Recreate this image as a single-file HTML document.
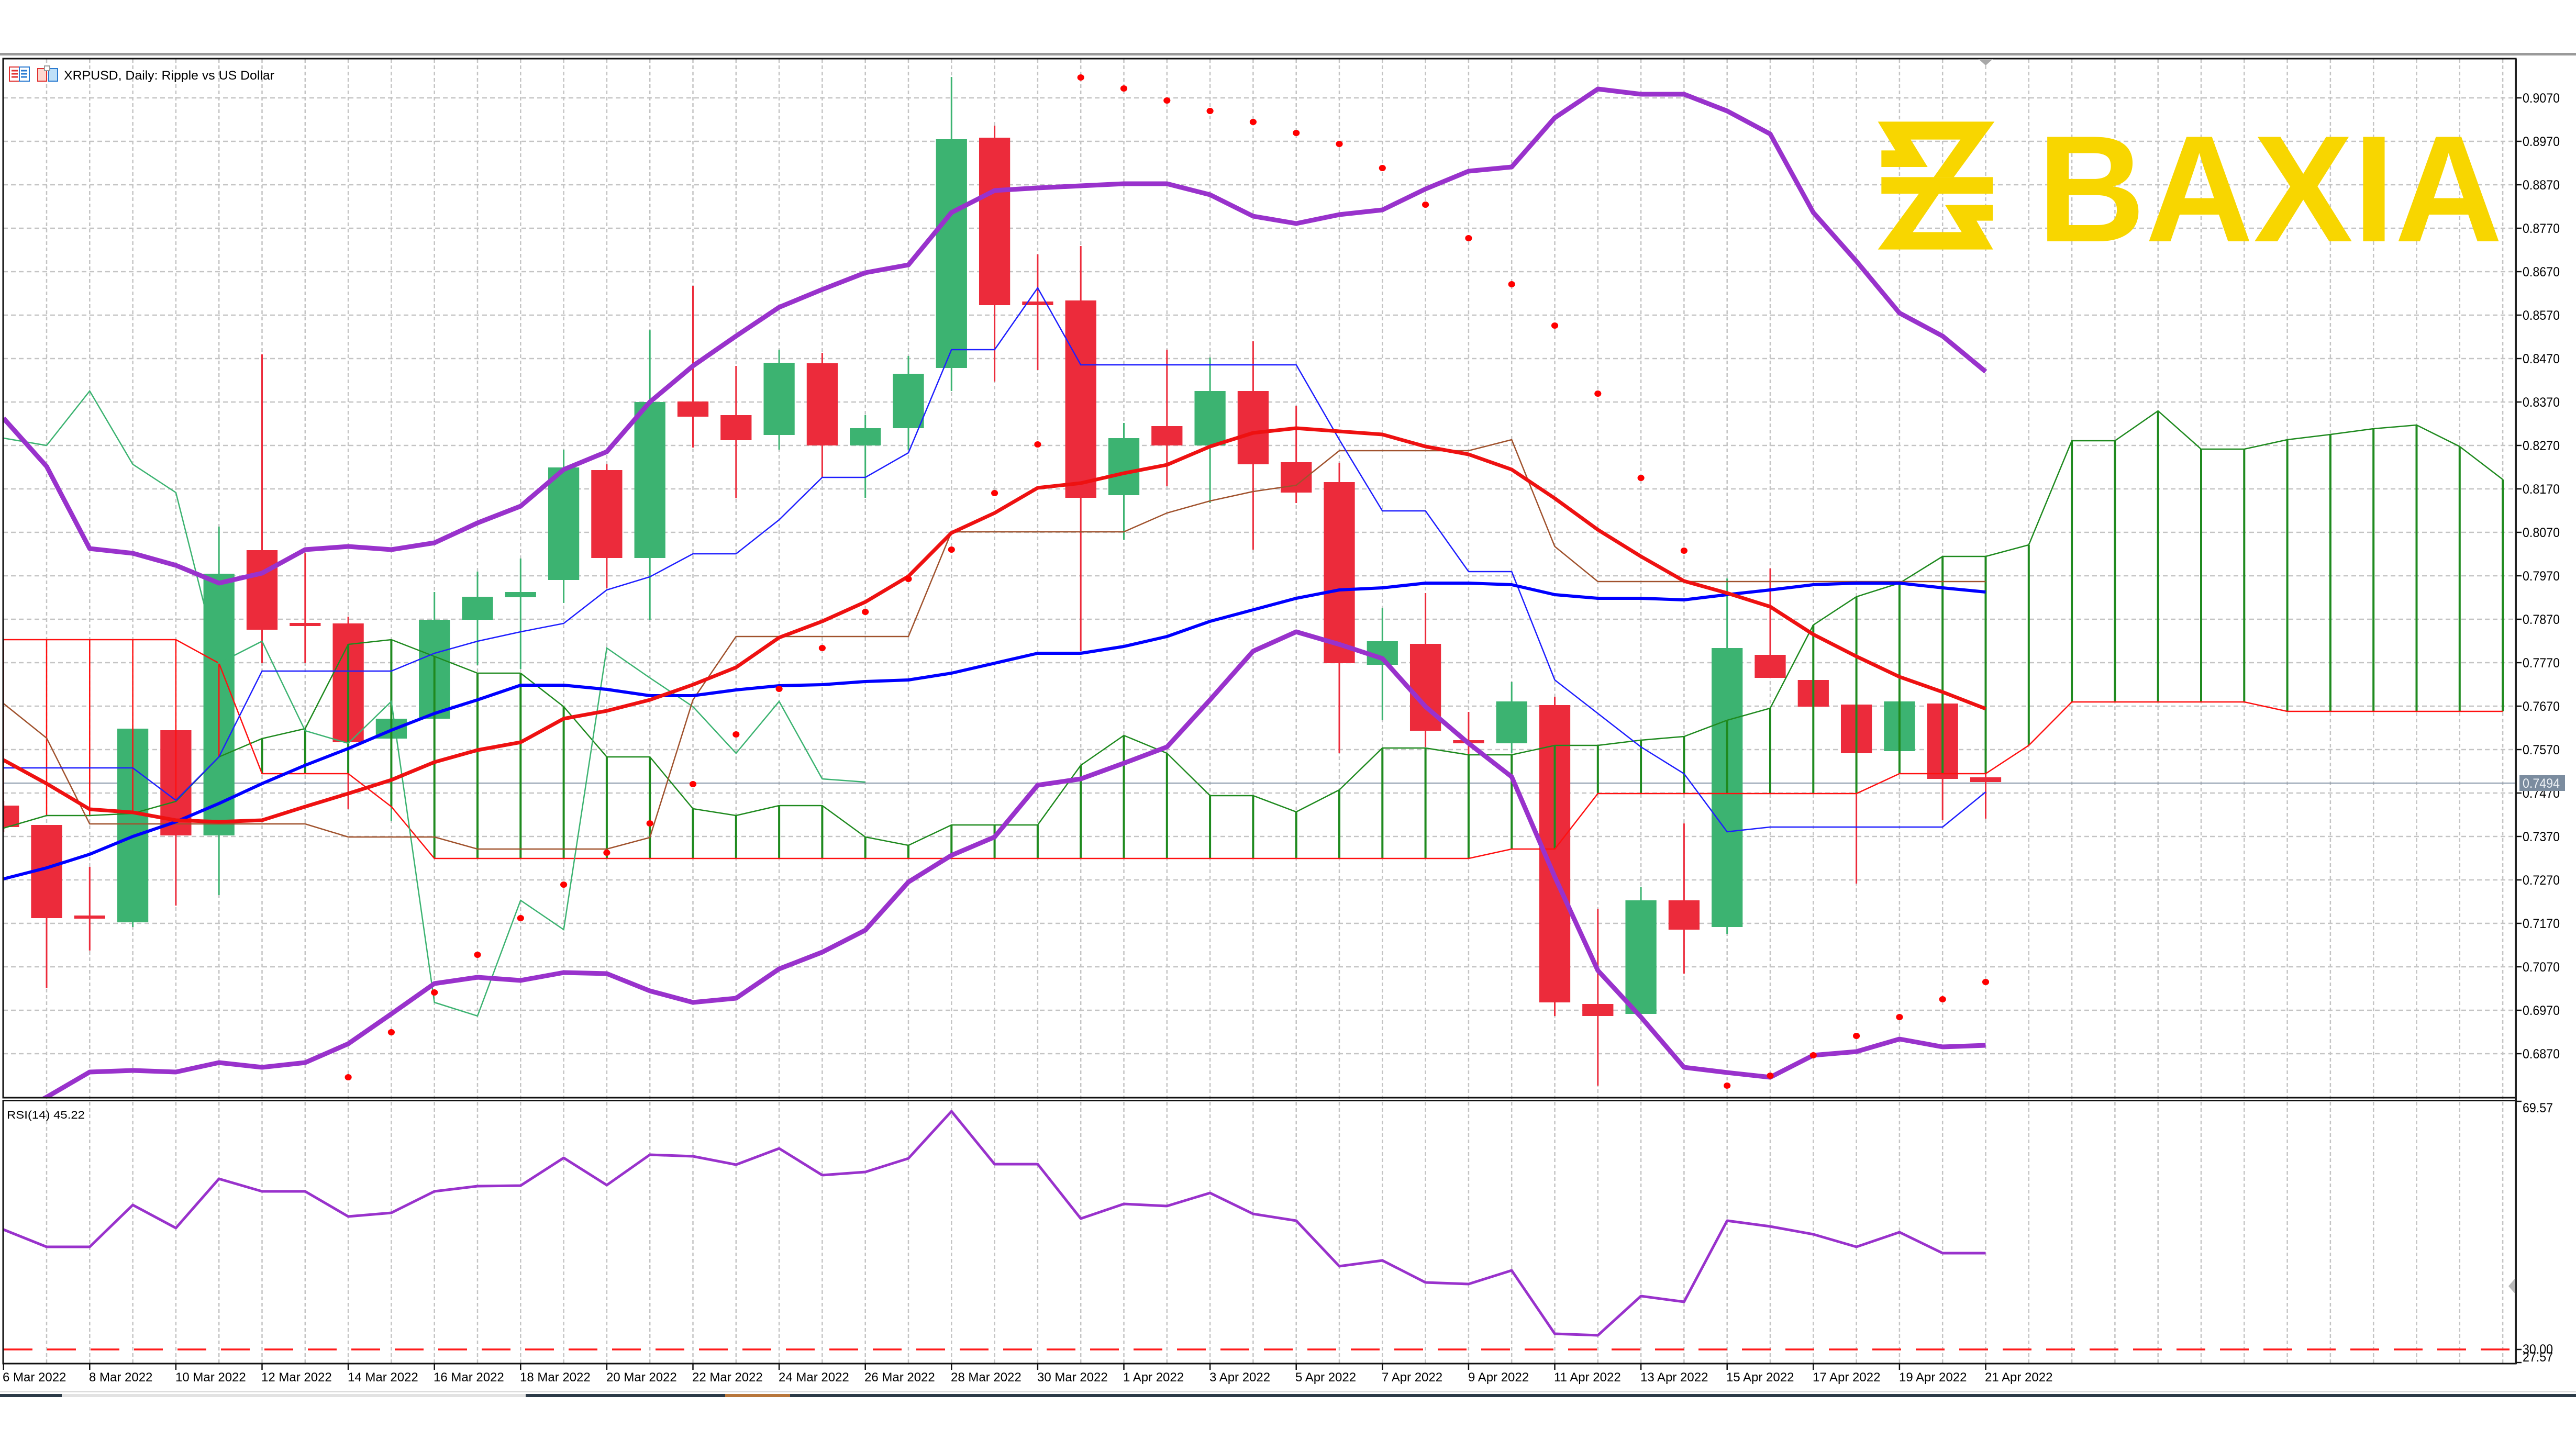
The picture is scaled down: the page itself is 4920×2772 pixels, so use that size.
<!DOCTYPE html>
<html>
<head>
<meta charset="utf-8">
<style>
html,body{margin:0;padding:0;background:#fff;}
body{width:4920px;height:2772px;overflow:hidden;}
svg{display:block;}
text{font-family:"Liberation Sans",sans-serif;}
</style>
</head>
<body>
<svg width="4920" height="2772" viewBox="0 0 4920 2772" xmlns="http://www.w3.org/2000/svg">
<defs>
<clipPath id="pc"><rect x="7" y="113" width="4797" height="1983"/></clipPath>
<clipPath id="rc"><rect x="7" y="2104" width="4797" height="500"/></clipPath>
</defs>
<rect x="0" y="0" width="4920" height="2772" fill="#fff"/>
<!-- top separator -->
<rect x="0" y="101" width="4920" height="5" fill="#9a9a9a"/>

<!-- horizontal grid -->
<path d="M6 187H4805M6 270H4805M6 353H4805M6 436H4805M6 519H4805M6 602H4805M6 685H4805M6 768H4805M6 851H4805M6 934H4805M6 1017H4805M6 1100H4805M6 1183H4805M6 1266H4805M6 1349H4805M6 1432H4805M6 1515H4805M6 1598H4805M6 1681H4805M6 1764H4805M6 1847H4805M6 1930H4805M6 2013H4805" stroke="#c4c4c4" stroke-width="2.5" stroke-dasharray="9 6" fill="none"/>

<!-- vertical grid -->
<g transform="translate(89,0) scale(82.3,1)">
<path d="M0 113V2604M1 113V2604M2 113V2604M3 113V2604M4 113V2604M5 113V2604M6 113V2604M7 113V2604M8 113V2604M9 113V2604M10 113V2604M11 113V2604M12 113V2604M13 113V2604M14 113V2604M15 113V2604M16 113V2604M17 113V2604M18 113V2604M19 113V2604M20 113V2604M21 113V2604M22 113V2604M23 113V2604M24 113V2604M25 113V2604M26 113V2604M27 113V2604M28 113V2604M29 113V2604M30 113V2604M31 113V2604M32 113V2604M33 113V2604M34 113V2604M35 113V2604M36 113V2604M37 113V2604M38 113V2604M39 113V2604M40 113V2604M41 113V2604M42 113V2604M43 113V2604M44 113V2604M45 113V2604M46 113V2604M47 113V2604M48 113V2604M49 113V2604M50 113V2604M51 113V2604M52 113V2604M53 113V2604M54 113V2604M55 113V2604M56 113V2604M57 113V2604" stroke="#c4c4c4" stroke-width="2.5" stroke-dasharray="7 5" fill="none" vector-effect="non-scaling-stroke"/>
</g>

<!-- current price line -->
<line x1="6" y1="1496" x2="4805" y2="1496" stroke="#8a99aa" stroke-width="2"/>

<!-- PRICE PANE CONTENT -->
<g clip-path="url(#pc)">
<g transform="translate(89,0) scale(82.3,1)">
<!-- candles green -->
<g fill="#3cb371">
<path d="M2 1392V1771M4 1006V1710M8 1344V1568M9 1131V1440M10 1092V1270M11 1067V1278M12 859V1152M14 631V1184M17 668V859M19 793V951M20 680V859M21 147V747M25 808V1031M27 683V961M31 1162V1376M34 1303V1439M37 1694V1937M39 1105V1784M43 1340V1435" stroke="#3cb371" stroke-width="3" vector-effect="non-scaling-stroke"/>
<rect x="1.64" y="1392" width="0.72" height="370"/>
<rect x="3.64" y="1096" width="0.72" height="500"/>
<rect x="7.64" y="1373" width="0.72" height="38"/>
<rect x="8.64" y="1184" width="0.72" height="189"/>
<rect x="9.64" y="1140" width="0.72" height="44"/>
<rect x="10.64" y="1131" width="0.72" height="10"/>
<rect x="11.64" y="893" width="0.72" height="215"/>
<rect x="13.64" y="768" width="0.72" height="298"/>
<rect x="16.64" y="693" width="0.72" height="138"/>
<rect x="18.64" y="818" width="0.72" height="33"/>
<rect x="19.64" y="714" width="0.72" height="104"/>
<rect x="20.64" y="266" width="0.72" height="437"/>
<rect x="24.64" y="837" width="0.72" height="109"/>
<rect x="26.64" y="747" width="0.72" height="104"/>
<rect x="30.64" y="1225" width="0.72" height="45"/>
<rect x="33.64" y="1340" width="0.72" height="80"/>
<rect x="36.64" y="1720" width="0.72" height="217"/>
<rect x="38.64" y="1238" width="0.72" height="533"/>
<rect x="42.64" y="1340" width="0.72" height="95"/>
</g>
<!-- candles red -->
<g fill="#ec2b3b">
<path d="M-1 1530V1590M0 1576V1888M1 1656V1816M3 1395V1730M5 677V1267M6 1057V1267M7 1178V1545M13 887V1124M15 546V855M16 699V952M18 674V912M22 240V729M23 486V707M24 470V1244M26 668V929M28 652V1050M29 776V961M30 884V1439M32 1133V1427M33 1360V1452M35 1331V1941M36 1736V2074M38 1573V1860M40 1086V1295M41 1299V1350M42 1346V1688M44 1344V1567M45 1475V1564" stroke="#ec2b3b" stroke-width="3" vector-effect="non-scaling-stroke"/>
<rect x="-1.36" y="1539" width="0.72" height="41"/>
<rect x="-0.36" y="1576" width="0.72" height="178"/>
<rect x="0.64" y="1749" width="0.72" height="6"/>
<rect x="2.64" y="1395" width="0.72" height="201"/>
<rect x="4.64" y="1051" width="0.72" height="152"/>
<rect x="5.64" y="1190" width="0.72" height="6"/>
<rect x="6.64" y="1191" width="0.72" height="227"/>
<rect x="12.64" y="898" width="0.72" height="168"/>
<rect x="14.64" y="767" width="0.72" height="29"/>
<rect x="15.64" y="793" width="0.72" height="48"/>
<rect x="17.64" y="694" width="0.72" height="157"/>
<rect x="21.64" y="263" width="0.72" height="320"/>
<rect x="22.64" y="576" width="0.72" height="7"/>
<rect x="23.64" y="574" width="0.72" height="377"/>
<rect x="25.64" y="814" width="0.72" height="37"/>
<rect x="27.64" y="747" width="0.72" height="140"/>
<rect x="28.64" y="883" width="0.72" height="58"/>
<rect x="29.64" y="921" width="0.72" height="346"/>
<rect x="31.64" y="1230" width="0.72" height="166"/>
<rect x="32.64" y="1414" width="0.72" height="6"/>
<rect x="34.64" y="1347" width="0.72" height="568"/>
<rect x="35.64" y="1918" width="0.72" height="23"/>
<rect x="37.64" y="1720" width="0.72" height="56"/>
<rect x="39.64" y="1251" width="0.72" height="44"/>
<rect x="40.64" y="1299" width="0.72" height="51"/>
<rect x="41.64" y="1346" width="0.72" height="93"/>
<rect x="43.64" y="1344" width="0.72" height="144"/>
<rect x="44.64" y="1485" width="0.72" height="9"/>
</g>

<!-- Ichimoku cloud verticals -->
<path d="M-1 1222V1582M0 1222V1558M1 1222V1558M2 1222V1554M3 1222V1531M4 1267V1446" stroke="#ff1010" stroke-width="2.5" fill="none" vector-effect="non-scaling-stroke"/>
<path d="M5 1411V1478M6 1392V1478M7 1231V1478M8 1222V1541M9 1254V1640M10 1286V1640M11 1286V1640M12 1350V1640M13 1446V1640M14 1446V1640M15 1545V1640M16 1558V1640M17 1539V1640M18 1539V1640M19 1599V1640M20 1615V1640M21 1576V1640M22 1576V1640M23 1576V1640M24 1462V1640M25 1405V1640M26 1439V1640M27 1520V1640M28 1520V1640M29 1551V1640M30 1509V1640M31 1429V1640M32 1429V1640M33 1442V1640M34 1442V1622M35 1424V1622M36 1424V1516M37 1414V1516M38 1407V1516M39 1376V1516M40 1353V1516M41 1194V1516M42 1140V1516M43 1114V1478M44 1063V1478M45 1063V1478M46 1041V1424M47 842V1341M48 842V1341M49 785V1341M50 858V1341M51 858V1341M52 840V1359M53 830V1359M54 819V1359M55 812V1359M56 853V1359M57 916V1359" stroke="#1f8a1f" stroke-width="4" fill="none" vector-effect="non-scaling-stroke"/>
<!-- Span A -->
<polyline points="-1,1582 0,1558 1,1558 2,1554 3,1531 4,1446 5,1411 6,1392 7,1231 8,1222 9,1254 10,1286 11,1286 12,1350 13,1446 14,1446 15,1545 16,1558 17,1539 18,1539 19,1599 20,1615 21,1576 22,1576 23,1576 24,1462 25,1405 26,1439 27,1520 28,1520 29,1551 30,1509 31,1429 32,1429 33,1442 34,1442 35,1424 36,1424 37,1414 38,1407 39,1376 40,1353 41,1194 42,1140 43,1114 44,1063 45,1063 46,1041 47,842 48,842 49,785 50,858 51,858 52,840 53,830 54,819 55,812 56,853 57,916" fill="none" stroke="#1f8a1f" stroke-width="2.5" vector-effect="non-scaling-stroke"/>
<!-- Span B -->
<polyline points="-1,1222 3,1222 4,1267 5,1478 7,1478 8,1541 9,1640 33,1640 34,1622 35,1622 36,1516 42,1516 43,1478 45,1478 46,1424 47,1341 51,1341 52,1359 57,1359" fill="none" stroke="#ff1010" stroke-width="2.5" vector-effect="non-scaling-stroke"/>
<!-- Chikou -->
<polyline points="-1,837 0,851 1,747 2,887 3,941 4,1267 5,1225 6,1396 7,1420 8,1340 9,1915 10,1941 11,1720 12,1776 13,1238 14,1295 15,1350 16,1439 17,1340 18,1488 19,1494" fill="none" stroke="#3cb371" stroke-width="2.5" vector-effect="non-scaling-stroke"/>
<!-- Kijun -->
<polyline points="-1,1344 0,1410 1,1574 6,1574 7,1599 9,1599 10,1622 13,1622 14,1600 15,1337 16,1216 20,1216 21,1016 25,1016 26,980 27,957 28,939 29,927 30,861 33,861 34,840 35,1044 36,1111 45,1111" fill="none" stroke="#a0522d" stroke-width="2.5" vector-effect="non-scaling-stroke"/>
<!-- Tenkan -->
<polyline points="-1,1467 2,1467 3,1529 4,1446 5,1282 8,1282 9,1248 10,1225 11,1207 12,1191 13,1127 14,1102 15,1058 16,1058 17,993 18,912 19,912 20,865 21,668 22,668 23,550 24,697 29,697 30,840 31,976 32,976 33,1092 34,1092 35,1299 36,1363 37,1427 38,1478 39,1589 40,1580 44,1580 45,1513" fill="none" stroke="#1e1eff" stroke-width="2.5" vector-effect="non-scaling-stroke"/>
<!-- Blue MA -->
<polyline points="-1,1679 0,1658 1,1632 2,1598 3,1570 4,1535 5,1497 6,1462 7,1430 8,1395 9,1363 10,1337 11,1309 12,1309 13,1317 14,1329 15,1329 16,1318 17,1310 18,1308 19,1302 20,1299 21,1286 22,1267 23,1248 24,1248 25,1235 26,1216 27,1187 28,1165 29,1143 30,1127 31,1123 32,1114 33,1114 34,1117 35,1136 36,1143 37,1143 38,1146 39,1136 40,1127 41,1117 42,1114 43,1114 44,1123 45,1131" fill="none" stroke="#0000ff" stroke-width="6" stroke-linejoin="round" vector-effect="non-scaling-stroke"/>
<!-- Red MA -->
<polyline points="-1,1452 0,1497 1,1546 2,1552 3,1567 4,1570 5,1567 6,1541 7,1516 8,1490 9,1456 10,1433 11,1418 12,1373 13,1358 14,1337 15,1308 16,1275 17,1218 18,1187 19,1150 20,1101 21,1018 22,980 23,932 24,923 25,904 26,888 27,853 28,827 29,818 30,824 31,830 32,853 33,868 34,897 35,952 36,1012 37,1063 38,1110 39,1133 40,1159 41,1212 42,1254 43,1293 44,1322 45,1354" fill="none" stroke="#ee1111" stroke-width="7" stroke-linejoin="round" vector-effect="non-scaling-stroke"/>
<!-- Bollinger upper -->
<polyline points="-1,799 0,891 1,1048 2,1057 3,1080 4,1114 5,1095 6,1050 7,1044 8,1050 9,1037 10,999 11,967 12,897 13,863 14,768 15,699 16,642 17,587 18,553 19,521 20,506 21,406 22,364 23,359 24,355 25,351 26,351 27,372 28,413 29,427 30,410 31,401 32,361 33,327 34,319 35,225 36,170 37,180 38,180 39,212 40,256 41,406 42,499 43,598 44,642 45,710" fill="none" stroke="#9932cc" stroke-width="9" stroke-linejoin="round" vector-effect="non-scaling-stroke"/>
<!-- Bollinger lower -->
<polyline points="-1,2140 0,2096 1,2048 2,2045 3,2048 4,2030 5,2039 6,2030 7,1994 8,1937 9,1879 10,1867 11,1873 12,1858 13,1860 14,1893 15,1915 16,1907 17,1851 18,1819 19,1777 20,1685 21,1634 22,1599 23,1500 24,1488 25,1458 26,1427 27,1337 28,1244 29,1207 30,1231 31,1258 32,1350 33,1420 34,1484 35,1675 36,1854 37,1943 38,2039 39,2049 40,2058 41,2016 42,2009 43,1985 44,2000 45,1997" fill="none" stroke="#9932cc" stroke-width="9" stroke-linejoin="round" vector-effect="non-scaling-stroke"/>
<!-- Parabolic SAR -->
<g fill="#ff0000">
<ellipse cx="7" cy="2058" rx="0.08" ry="6"/>
<ellipse cx="8" cy="1972" rx="0.08" ry="6"/>
<ellipse cx="9" cy="1896" rx="0.08" ry="6"/>
<ellipse cx="10" cy="1824" rx="0.08" ry="6"/>
<ellipse cx="11" cy="1754" rx="0.08" ry="6"/>
<ellipse cx="12" cy="1690" rx="0.08" ry="6"/>
<ellipse cx="13" cy="1629" rx="0.08" ry="6"/>
<ellipse cx="14" cy="1573" rx="0.08" ry="6"/>
<ellipse cx="15" cy="1498" rx="0.08" ry="6"/>
<ellipse cx="16" cy="1403" rx="0.08" ry="6"/>
<ellipse cx="17" cy="1316" rx="0.08" ry="6"/>
<ellipse cx="18" cy="1238" rx="0.08" ry="6"/>
<ellipse cx="19" cy="1169" rx="0.08" ry="6"/>
<ellipse cx="20" cy="1106" rx="0.08" ry="6"/>
<ellipse cx="21" cy="1050" rx="0.08" ry="6"/>
<ellipse cx="22" cy="942" rx="0.08" ry="6"/>
<ellipse cx="23" cy="849" rx="0.08" ry="6"/>
<ellipse cx="24" cy="148" rx="0.08" ry="6"/>
<ellipse cx="25" cy="169" rx="0.08" ry="6"/>
<ellipse cx="26" cy="192" rx="0.08" ry="6"/>
<ellipse cx="27" cy="212" rx="0.08" ry="6"/>
<ellipse cx="28" cy="233" rx="0.08" ry="6"/>
<ellipse cx="29" cy="254" rx="0.08" ry="6"/>
<ellipse cx="30" cy="275" rx="0.08" ry="6"/>
<ellipse cx="31" cy="321" rx="0.08" ry="6"/>
<ellipse cx="32" cy="391" rx="0.08" ry="6"/>
<ellipse cx="33" cy="455" rx="0.08" ry="6"/>
<ellipse cx="34" cy="543" rx="0.08" ry="6"/>
<ellipse cx="35" cy="622" rx="0.08" ry="6"/>
<ellipse cx="36" cy="752" rx="0.08" ry="6"/>
<ellipse cx="37" cy="913" rx="0.08" ry="6"/>
<ellipse cx="38" cy="1052" rx="0.08" ry="6"/>
<ellipse cx="39" cy="2074" rx="0.08" ry="6"/>
<ellipse cx="40" cy="2055" rx="0.08" ry="6"/>
<ellipse cx="41" cy="2016" rx="0.08" ry="6"/>
<ellipse cx="42" cy="1979" rx="0.08" ry="6"/>
<ellipse cx="43" cy="1943" rx="0.08" ry="6"/>
<ellipse cx="44" cy="1909" rx="0.08" ry="6"/>
<ellipse cx="45" cy="1876" rx="0.08" ry="6"/>
</g>
</g>
</g>

<!-- RSI PANE CONTENT -->
<g clip-path="url(#rc)">
<line x1="7" y1="2578" x2="4805" y2="2578" stroke="#ff1a1a" stroke-width="3.5" stroke-dasharray="55 28"/>
<g transform="translate(89,0) scale(82.3,1)">
<polyline points="-1,2349 0,2382 1,2382 2,2302 3,2346 4,2252 5,2276 6,2276 7,2324 8,2317 9,2276 10,2266 11,2265 12,2212 13,2264 14,2206 15,2209 16,2225 17,2194 18,2245 19,2239 20,2213 21,2123 22,2224 23,2224 24,2328 25,2300 26,2304 27,2279 28,2319 29,2332 30,2419 31,2408 32,2450 33,2453 34,2427 35,2548 36,2551 37,2476 38,2487 39,2332 40,2343 41,2358 42,2382 43,2354 44,2394 45,2394" fill="none" stroke="#9932cc" stroke-width="5" stroke-linejoin="round" vector-effect="non-scaling-stroke"/>
</g>
</g>

<!-- frames -->
<rect x="6" y="112" width="4799" height="1985" fill="none" stroke="#111" stroke-width="3"/>
<rect x="6" y="2102.5" width="4799" height="502.5" fill="none" stroke="#111" stroke-width="3"/>
<line x1="4805" y1="112" x2="4805" y2="2606" stroke="#222" stroke-width="4"/>
<!-- chart shift marker -->
<polygon points="3779,113 3806,113 3792.5,125" fill="#a8a8a8"/>
<!-- RSI right marker -->
<polygon points="4791,2457 4804,2442 4804,2472" fill="#b8b8b8"/>

<!-- title -->
<g>
<rect x="18" y="128" width="38" height="27" fill="#fff" stroke="#e03030" stroke-width="2"/>
<rect x="37" y="128" width="19" height="27" fill="#fff" stroke="#2a7ad0" stroke-width="2"/>
<path d="M22 135H34M22 141H34M22 147H34" stroke="#e03030" stroke-width="3"/>
<path d="M40 135H52M40 141H52M40 147H52" stroke="#2a7ad0" stroke-width="3"/>
<rect x="72" y="131" width="17" height="24" fill="#fcd8d0" stroke="#e03030" stroke-width="2"/>
<rect x="93" y="131" width="17" height="24" fill="#bfe0f8" stroke="#2a7ad0" stroke-width="2"/>
<rect x="85" y="126" width="10" height="9" fill="#fff" stroke="#999" stroke-width="2"/>
</g>
<text x="122" y="152" font-size="24" fill="#000" textLength="402" lengthAdjust="spacingAndGlyphs">XRPUSD, Daily:  Ripple vs US Dollar</text>
<text x="13" y="2137" font-size="21" fill="#000" textLength="149" lengthAdjust="spacingAndGlyphs">RSI(14) 45.22</text>

<!-- price axis ticks and labels -->
<path d="M4805 187H4816M4805 270H4816M4805 353H4816M4805 436H4816M4805 519H4816M4805 602H4816M4805 685H4816M4805 768H4816M4805 851H4816M4805 934H4816M4805 1017H4816M4805 1100H4816M4805 1183H4816M4805 1266H4816M4805 1349H4816M4805 1432H4816M4805 1515H4816M4805 1598H4816M4805 1681H4816M4805 1764H4816M4805 1847H4816M4805 1930H4816M4805 2013H4816M4805 2104H4816M4805 2578H4816M4805 2603H4816" stroke="#111" stroke-width="2.5"/>
<g font-size="25" fill="#000">
<text x="4818" y="196" textLength="71" lengthAdjust="spacingAndGlyphs">0.9070</text>
<text x="4818" y="279" textLength="71" lengthAdjust="spacingAndGlyphs">0.8970</text>
<text x="4818" y="362" textLength="71" lengthAdjust="spacingAndGlyphs">0.8870</text>
<text x="4818" y="445" textLength="71" lengthAdjust="spacingAndGlyphs">0.8770</text>
<text x="4818" y="528" textLength="71" lengthAdjust="spacingAndGlyphs">0.8670</text>
<text x="4818" y="611" textLength="71" lengthAdjust="spacingAndGlyphs">0.8570</text>
<text x="4818" y="694" textLength="71" lengthAdjust="spacingAndGlyphs">0.8470</text>
<text x="4818" y="777" textLength="71" lengthAdjust="spacingAndGlyphs">0.8370</text>
<text x="4818" y="860" textLength="71" lengthAdjust="spacingAndGlyphs">0.8270</text>
<text x="4818" y="943" textLength="71" lengthAdjust="spacingAndGlyphs">0.8170</text>
<text x="4818" y="1026" textLength="71" lengthAdjust="spacingAndGlyphs">0.8070</text>
<text x="4818" y="1109" textLength="71" lengthAdjust="spacingAndGlyphs">0.7970</text>
<text x="4818" y="1192" textLength="71" lengthAdjust="spacingAndGlyphs">0.7870</text>
<text x="4818" y="1275" textLength="71" lengthAdjust="spacingAndGlyphs">0.7770</text>
<text x="4818" y="1358" textLength="71" lengthAdjust="spacingAndGlyphs">0.7670</text>
<text x="4818" y="1441" textLength="71" lengthAdjust="spacingAndGlyphs">0.7570</text>
<text x="4818" y="1524" textLength="71" lengthAdjust="spacingAndGlyphs">0.7470</text>
<text x="4818" y="1607" textLength="71" lengthAdjust="spacingAndGlyphs">0.7370</text>
<text x="4818" y="1690" textLength="71" lengthAdjust="spacingAndGlyphs">0.7270</text>
<text x="4818" y="1773" textLength="71" lengthAdjust="spacingAndGlyphs">0.7170</text>
<text x="4818" y="1856" textLength="71" lengthAdjust="spacingAndGlyphs">0.7070</text>
<text x="4818" y="1939" textLength="71" lengthAdjust="spacingAndGlyphs">0.6970</text>
<text x="4818" y="2022" textLength="71" lengthAdjust="spacingAndGlyphs">0.6870</text>
<text x="4818" y="2125" textLength="58" lengthAdjust="spacingAndGlyphs">69.57</text>
<text x="4818" y="2586" textLength="58" lengthAdjust="spacingAndGlyphs">30.00</text>
<text x="4818" y="2601" textLength="58" lengthAdjust="spacingAndGlyphs">27.57</text>
</g>
<!-- current price box -->
<rect x="4812" y="1481" width="87" height="30" fill="#7b8c9f"/>
<text x="4818" y="1505" font-size="25" fill="#eef2f6" textLength="71" lengthAdjust="spacingAndGlyphs">0.7494</text>

<!-- date ticks and labels -->
<g transform="translate(89,0) scale(82.3,1)">
<path d="M-1 2605V2617M1 2605V2617M3 2605V2617M5 2605V2617M7 2605V2617M9 2605V2617M11 2605V2617M13 2605V2617M15 2605V2617M17 2605V2617M19 2605V2617M21 2605V2617M23 2605V2617M25 2605V2617M27 2605V2617M29 2605V2617M31 2605V2617M33 2605V2617M35 2605V2617M37 2605V2617M39 2605V2617M41 2605V2617M43 2605V2617M45 2605V2617" stroke="#111" stroke-width="2.5" vector-effect="non-scaling-stroke"/>
</g>
<g font-size="24" fill="#000">
<text x="5" y="2639">6 Mar 2022</text>
<text x="170" y="2639">8 Mar 2022</text>
<text x="335" y="2639">10 Mar 2022</text>
<text x="499" y="2639">12 Mar 2022</text>
<text x="664" y="2639">14 Mar 2022</text>
<text x="828" y="2639">16 Mar 2022</text>
<text x="993" y="2639">18 Mar 2022</text>
<text x="1158" y="2639">20 Mar 2022</text>
<text x="1322" y="2639">22 Mar 2022</text>
<text x="1487" y="2639">24 Mar 2022</text>
<text x="1651" y="2639">26 Mar 2022</text>
<text x="1816" y="2639">28 Mar 2022</text>
<text x="1981" y="2639">30 Mar 2022</text>
<text x="2145" y="2639">1 Apr 2022</text>
<text x="2310" y="2639">3 Apr 2022</text>
<text x="2474" y="2639">5 Apr 2022</text>
<text x="2639" y="2639">7 Apr 2022</text>
<text x="2804" y="2639">9 Apr 2022</text>
<text x="2968" y="2639">11 Apr 2022</text>
<text x="3133" y="2639">13 Apr 2022</text>
<text x="3297" y="2639">15 Apr 2022</text>
<text x="3462" y="2639">17 Apr 2022</text>
<text x="3627" y="2639">19 Apr 2022</text>
<text x="3791" y="2639">21 Apr 2022</text>
</g>

<!-- bottom bar -->
<rect x="0" y="2657" width="4920" height="3" fill="#dcdcdc"/>
<rect x="0" y="2663" width="4920" height="6" fill="#2b3a47"/>
<rect x="118" y="2663" width="886" height="6" fill="#e2e2e2"/>
<rect x="1385" y="2663" width="124" height="6" fill="#b8763a"/>

<!-- BAXIA logo -->
<g transform="translate(3560,200) scale(0.33333)" fill="#f8d600">
<polygon points="80,97 748,97 515,415 400,415 553,200 268,200 365,357 100,357 100,262 180,262"/>
<rect x="100" y="415" width="638" height="95"/>
<polygon points="315,510 430,510 280,730 560,730 465,575 738,575 738,665 645,665 740,830 80,830"/>
</g>
<text x="3891" y="461" font-size="290" font-weight="bold" fill="#f8d600" textLength="889" lengthAdjust="spacingAndGlyphs">BAXIA</text>
</svg>
</body>
</html>
